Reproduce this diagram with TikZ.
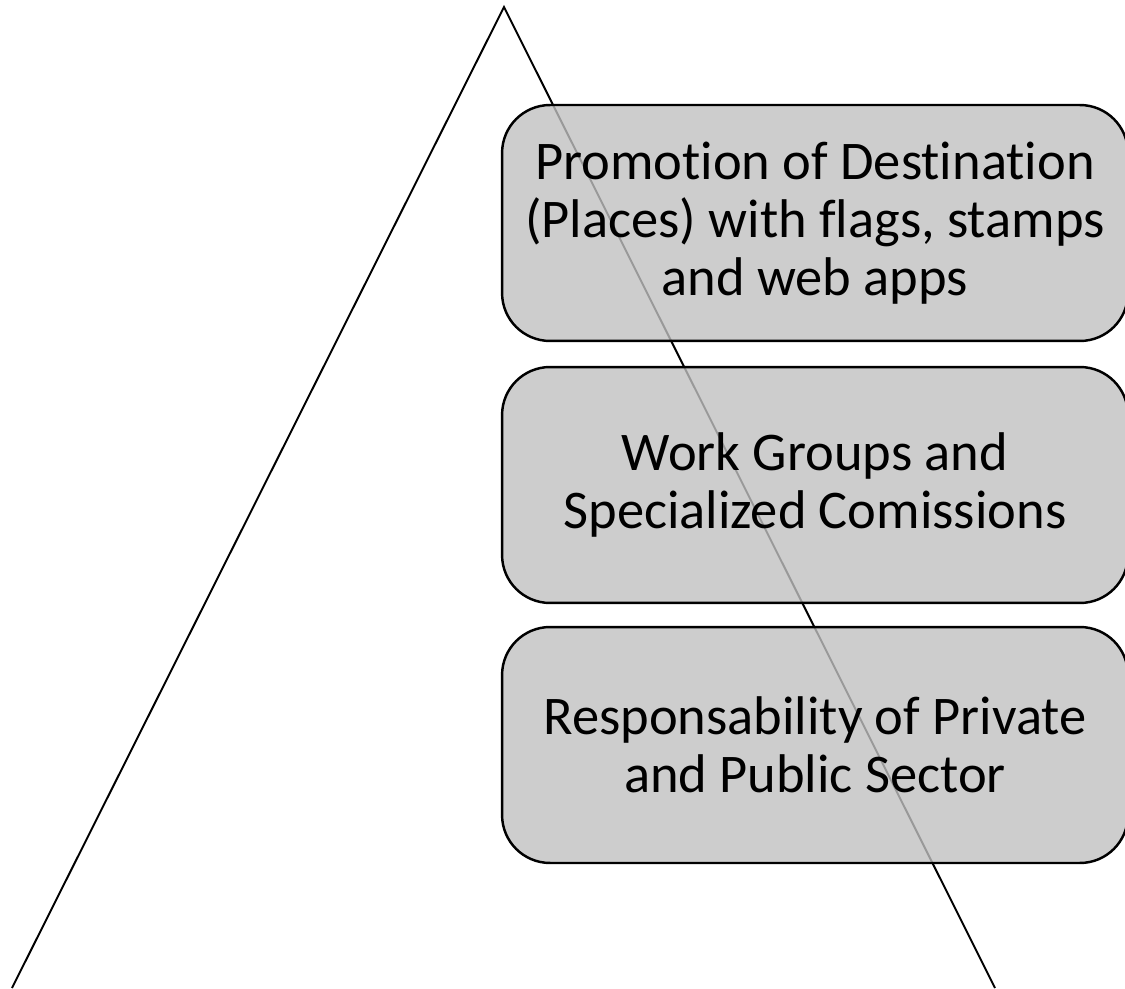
\documentclass[tikz,border=0pt]{standalone}
\usepackage{fontspec}
\setmainfont[Ligatures=NoCommon]{Carlito}
\definecolor{tierfill}{RGB}{192,192,192}
\definecolor{tierline}{RGB}{0,0,0}
\usetikzlibrary{positioning}
\tikzset{
  tierbox/.style={rectangle,rounded corners=0.96cm,draw=tierline,line width=1.4pt,
                  fill=tierfill,fill opacity=0.8,text opacity=1,
                  minimum width=12.52cm,minimum height=4.72cm,
                  font=\fontsize{31}{33}\selectfont,align=center},
  edge/.style={line width=1.1pt,black},
}
\begin{document}
\begin{tikzpicture}[x=0.02cm,y=-0.02cm]
  \useasboundingbox (0,0) rectangle (1125,989);
  % pyramid sides
  \coordinate (apex)  at (504,7);
  \coordinate (baseL) at (12,988);
  \coordinate (baseR) at (995,988);
  \draw[edge] (baseL) -- (apex) -- (baseR);
  % tiers
  \node[tierbox] (promo)   at (815,223) {Promotion of Destination\\(Places) with flags, stamps\\and web apps};
  \node[tierbox] (workgrp) at (815,485) {Work Groups and\\Specialized Comissions};
  \node[tierbox] (respons) at (815,745) {Responsability of Private\\and Public Sector};
\end{tikzpicture}
\end{document}
